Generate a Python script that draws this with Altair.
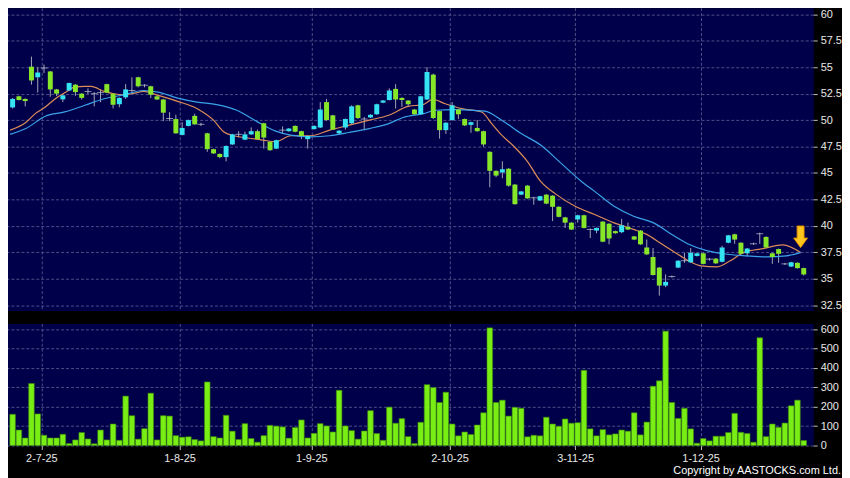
import altair as alt
import pandas as pd

# ---------------- data ----------------
opens = [51.2, 52.25, 52.0, 55.05, 54.05, 54.93, 54.6, 52.9, 51.96, 52.8,
         53.35, 52.5, 52.7, 52.5, 52.6, 53.4, 52.5, 51.5, 52.15, 52.8,
         54.05, 53.3, 53.2, 52.25, 51.95, 50.15, 50.1, 48.6, 49.45, 50.4,
         49.6, 48.75, 47.25, 46.8, 46.5, 47.7, 48.65, 48.15, 48.65, 48.95,
         49.7, 47.95, 47.3, 49.05, 48.95, 49.45, 48.95, 48.2, 49.15, 49.3,
         51.7, 50.45, 48.75, 49.3, 49.7, 51.4, 50.1, 50.25, 50.55, 51.65,
         51.9, 52.95, 52.1, 51.85, 51.0, 50.55, 51.95, 54.3, 50.85, 49.05,
         50.0, 51.0, 50.1, 49.55, 49.25, 48.95, 47.0, 45.2, 45.05, 45.4,
         43.9, 42.95, 43.8, 42.65, 42.4, 42.95, 42.85, 41.8, 40.8, 40.3,
         40.6, 41.0, 39.65, 39.55, 40.4, 40.2, 39.5, 39.4, 39.9, 39.0,
         39.55, 37.95, 37.05, 36.05, 34.35, 35.2, 36.05, 36.7, 36.55, 37.15,
         37.4, 36.85, 36.9, 36.6, 38.4, 39.2, 38.4, 37.4, 38.3, 39.25,
         38.95, 37.4, 37.8, 36.4, 36.15, 36.5, 36.0]
highs = [52.1, 52.3, 52.05, 56.0, 55.0, 55.25, 54.65, 52.95, 52.4, 53.55,
         53.4, 52.55, 53.0, 52.65, 52.9, 53.45, 52.55, 52.15, 53.4, 54.05,
         54.1, 53.4, 53.25, 52.3, 52.0, 50.75, 50.5, 49.8, 50.05, 50.6,
         49.75, 48.8, 47.3, 46.85, 47.6, 48.7, 48.95, 48.9, 49.3, 49.1,
         49.75, 48.0, 48.15, 49.4, 49.25, 49.5, 49.0, 48.55, 49.5, 51.7,
         52.0, 50.5, 49.05, 50.15, 51.4, 51.45, 50.3, 50.55, 51.55, 51.9,
         53.0, 53.4, 52.15, 51.9, 51.05, 52.3, 55.0, 54.4, 50.9, 49.8,
         51.7, 51.05, 50.15, 49.85, 50.0, 49.0, 47.05, 45.25, 46.1, 45.45,
         43.95, 43.3, 43.85, 42.75, 42.85, 43.0, 42.9, 41.85, 40.85, 40.35,
         41.05, 41.05, 39.75, 39.85, 40.45, 40.25, 39.55, 40.65, 40.3, 39.05,
         39.6, 38.7, 37.9, 36.1, 35.4, 35.3, 36.75, 37.45, 37.9, 37.45,
         37.45, 36.95, 36.95, 38.1, 39.15, 39.25, 38.45, 37.9, 38.4, 39.35,
         39.0, 37.45, 37.85, 36.5, 36.6, 36.55, 36.05]
lows = [51.1, 51.85, 51.3, 53.35, 52.6, 54.45, 52.2, 52.27, 51.7, 52.75,
        52.3, 51.95, 52.45, 51.3, 51.7, 52.55, 51.1, 51.2, 52.0, 52.5,
        53.1, 53.1, 52.1, 51.9, 49.9, 49.9, 48.7, 48.55, 49.4, 49.55,
        49.45, 47.0, 46.8, 46.4, 46.1, 47.65, 48.35, 48.1, 48.6, 48.15,
        47.3, 47.1, 47.25, 48.7, 48.9, 48.85, 48.2, 47.3, 49.1, 49.25,
        49.95, 49.05, 48.6, 49.1, 49.6, 50.1, 49.05, 50.2, 50.5, 51.6,
        51.85, 51.1, 51.25, 51.3, 50.5, 50.5, 51.9, 50.1, 48.25, 48.7,
        49.95, 50.1, 49.45, 48.8, 48.9, 47.5, 43.65, 44.6, 44.5, 43.7,
        42.0, 42.9, 42.55, 42.0, 42.35, 42.05, 40.45, 40.8, 39.8, 39.6,
        40.3, 39.75, 38.85, 39.3, 38.45, 38.25, 39.25, 39.3, 39.6, 38.65,
        38.2, 37.25, 35.3, 33.4, 34.2, 35.1, 36.0, 36.5, 36.5, 37.1,
        36.35, 36.7, 36.4, 36.55, 38.35, 38.3, 37.3, 37.1, 38.2, 38.3,
        37.9, 36.4, 36.5, 36.3, 36.1, 35.95, 35.3]
closes = [52.0, 51.9, 51.8, 53.75, 54.5, 54.93, 52.9, 52.5, 52.34, 53.5,
          52.65, 52.1, 52.7, 52.5, 52.6, 52.6, 51.45, 52.1, 52.9, 52.8,
          53.2, 53.3, 52.4, 51.95, 50.7, 50.15, 48.75, 49.25, 50.0, 49.6,
          49.6, 47.25, 46.85, 46.5, 47.55, 48.65, 48.65, 48.65, 48.95, 48.2,
          48.35, 47.15, 48.1, 49.05, 49.2, 48.9, 48.5, 48.5, 49.45, 51.0,
          50.0, 49.1, 49.0, 50.1, 51.3, 50.2, 50.1, 50.5, 51.5, 51.85,
          52.8, 51.95, 51.9, 51.5, 50.55, 52.25, 54.55, 50.2, 49.05, 49.75,
          51.4, 50.55, 49.5, 49.8, 48.95, 47.7, 45.2, 44.75, 45.35, 43.8,
          42.05, 43.25, 42.6, 42.65, 42.8, 42.1, 41.8, 40.85, 40.3, 39.65,
          41.0, 39.8, 39.65, 39.8, 38.5, 38.8, 39.3, 40.05, 39.65, 38.7,
          38.25, 37.3, 35.35, 34.35, 34.7, 35.2, 36.7, 36.7, 37.45, 37.4,
          36.4, 36.85, 36.45, 37.95, 39.1, 38.7, 37.35, 37.85, 38.3, 39.25,
          37.95, 37.05, 37.35, 36.4, 36.55, 36.0, 35.4]
volumes = [161, 80, 39, 320, 163, 53, 39, 39, 58, 10,
           29, 67, 34, 9, 80, 29, 111, 27, 255, 154,
           33, 87, 270, 29, 154, 152, 51, 43, 45, 31,
           24, 328, 46, 39, 156, 74, 31, 113, 36, 17,
           51, 104, 100, 96, 38, 93, 132, 39, 63, 113,
           101, 70, 285, 101, 77, 33, 75, 180, 62, 27,
           198, 115, 139, 46, 10, 120, 314, 299, 222, 275,
           111, 50, 70, 57, 106, 169, 607, 222, 234, 152,
           197, 192, 45, 53, 50, 146, 111, 99, 137, 115,
           118, 388, 86, 50, 82, 55, 60, 80, 74, 169,
           55, 121, 306, 334, 590, 222, 140, 192, 86, 12,
           36, 24, 48, 48, 67, 166, 68, 62, 17, 556,
           46, 111, 94, 116, 205, 234, 26]

ma_short_idx = [-0.4, 2.1, 3.6, 5.2, 6.8, 8.3, 9.9, 11.5, 12.5, 14.6, 16.1, 17.7,
                19.7, 20.8, 23.2, 26.3, 29.4, 32.0, 33.6, 35.2, 37.2, 39.8, 41.9,
                44.3, 47.4, 50.5, 53.6, 56.8, 59.9, 63.0, 65.4, 66.9, 68.9, 71.6,
                74.7, 76.3, 77.9, 79.9, 82.0, 84.1, 86.5, 89.6, 92.7, 95.8, 98.9,
                101.0, 103.1, 105.2, 107.5, 109.6, 112.2, 114.3, 116.4, 119.5,
                122.7, 125.5]
ma_short_val = [49.05, 49.77, 50.61, 51.24, 52.02, 52.58, 53.12, 53.18, 53.18, 52.71,
                52.49, 52.39, 52.58, 52.71, 52.34, 51.77, 51.08, 49.99, 48.89, 48.52,
                48.33, 48.11, 47.95, 48.52, 48.52, 49.05, 49.52, 49.99, 50.46, 51.3,
                51.46, 51.96, 51.55, 51.08, 50.77, 49.67, 48.58, 47.48, 46.08, 44.2,
                43.0, 41.85, 41.07, 40.28, 39.66, 39.19, 38.4, 37.6, 36.75, 36.22,
                36.12, 36.69, 37.47, 37.84, 38.2, 37.47]
ma_long_idx = [-0.4, 2.1, 5.2, 8.3, 11.5, 14.6, 17.7, 20.8, 23.2, 26.3, 29.4, 32.5,
               35.7, 38.8, 41.9, 44.3, 47.4, 50.5, 53.6, 56.8, 59.9, 62.2, 65.4,
               67.4, 70.5, 75.2, 77.9, 81.0, 84.1, 87.2, 90.6, 92.7, 95.8, 98.9,
               102.1, 105.2, 107.5, 110.7, 113.8, 116.9, 120.1, 123.2, 125.5]
ma_long_val = [48.65, 49.2, 50.37, 50.77, 51.4, 52.02, 52.39, 52.8, 52.65, 52.08,
               51.7, 51.46, 50.93, 49.9, 48.96, 48.58, 48.42, 48.52, 48.83, 49.2,
               49.67, 50.25, 50.61, 50.93, 50.99, 50.84, 49.99, 48.73, 47.64, 46.0,
               44.2, 43.26, 41.85, 40.91, 40.28, 39.1, 38.31, 37.63, 37.31, 37.16,
               37.06, 37.16, 37.47]

tick_idx = [5, 27, 48, 70, 90, 110]
tick_labels = ["2-7-25", "1-8-25", "1-9-25", "2-10-25", "3-11-25", "1-12-25"]
price_ticks = [32.5, 35, 37.5, 40, 42.5, 45, 47.5, 50, 52.5, 55, 57.5, 60]
vol_ticks = [0, 100, 200, 300, 400, 500, 600]
arrow_idx = [125.5]
arrow_val = [38.96]
copyright_text = ["Copyright by AASTOCKS.com Ltd."]

# ---------------- styling ----------------
W = 814
H_PRICE = 305
H_VOL = 123
X_DOMAIN = [-0.42, 126.72]
Y_DOMAIN = [31.99, 60.63]
V_DOMAIN = [0, 630]
CYAN = "#34e4f2"
LIME = "#86e628"
WICK = "#a4a4b8"
FONT = "Liberation Sans"

n = len(opens)
df = pd.DataFrame({"idx": list(range(n)), "open": opens, "high": highs,
                   "low": lows, "close": closes, "vol": volumes})
df["dir"] = ["up" if c > o else ("down" if c < o else "flat")
             for o, c in zip(opens, closes)]

tick_vals = [t - 0.42 for t in tick_idx]
label_expr = "''"
for t, lab in reversed(list(zip(tick_idx, tick_labels))):
    label_expr = f"round(datum.value + 0.42) == {t} ? '{lab}' : ({label_expr})"

xscale = alt.Scale(domain=X_DOMAIN, nice=False, zero=False)
x_price = alt.X("idx:Q", scale=xscale, title=None,
                axis=alt.Axis(values=tick_vals, labels=False, ticks=False,
                              domain=False, grid=True))
x_vol = alt.X("idx:Q", scale=xscale, title=None,
              axis=alt.Axis(values=tick_vals, labelExpr=label_expr, ticks=True,
                            domain=False, grid=True, tickSize=4, labelPadding=3,
                            labelFontSize=11))

price_axis = alt.Axis(orient="right", values=price_ticks, format=".3~g",
                      domain=False, grid=True, tickSize=4, labelPadding=3,
                      labelOverlap=False, labelFlush=False)
yscale = alt.Scale(domain=Y_DOMAIN, nice=False, zero=False)

base = alt.Chart(df)

wicks = base.mark_rule(color=WICK, strokeWidth=1).encode(
    x=x_price,
    y=alt.Y("low:Q", scale=yscale, axis=price_axis, title=None),
    y2="high:Q",
)
bodies = base.transform_filter("datum.dir != 'flat'").mark_bar(size=5).encode(
    x=x_price,
    y=alt.Y("open:Q", scale=yscale, axis=price_axis, title=None),
    y2="close:Q",
    color=alt.Color("dir:N", scale=alt.Scale(domain=["up", "down"], range=[CYAN, LIME]),
                    legend=None),
)
dojis = base.transform_filter("datum.dir == 'flat'").mark_tick(
    orient="horizontal", size=7, thickness=1, color="#c8c8d4").encode(
    x=x_price,
    y=alt.Y("open:Q", scale=yscale, axis=price_axis, title=None),
)

ma_s = alt.Chart(pd.DataFrame({"idx": ma_short_idx, "v": ma_short_val})).mark_line(
    color="#dc8c58", strokeWidth=1.2, interpolate="monotone", clip=True).encode(
    x=x_price, y=alt.Y("v:Q", scale=yscale, axis=price_axis, title=None))
ma_l = alt.Chart(pd.DataFrame({"idx": ma_long_idx, "v": ma_long_val})).mark_line(
    color="#3aa2e8", strokeWidth=1.2, interpolate="monotone", clip=True).encode(
    x=x_price, y=alt.Y("v:Q", scale=yscale, axis=price_axis, title=None))

arrow_path = "M-0.32,-1L0.32,-1L0.32,0.12L0.64,0.12L0,1L-0.64,0.12L-0.32,0.12Z"
arrow = alt.Chart(pd.DataFrame({"idx": arrow_idx, "v": arrow_val})).mark_point(
    shape=arrow_path, size=470, filled=True, fill="#ffc61e", stroke="#e89400",
    strokeWidth=1, opacity=1).encode(
    x=x_price, y=alt.Y("v:Q", scale=yscale, axis=price_axis, title=None))

price = alt.layer(wicks, ma_s, ma_l, bodies, dojis, arrow).properties(
    width=W, height=H_PRICE)

vol_axis = alt.Axis(orient="right", values=vol_ticks, format="d", domain=False,
                    grid=True, tickSize=4, labelPadding=3,
                    labelOverlap=False, labelFlush=False)
vol_bars = base.mark_bar(size=5.6, color="#78ee14", stroke="#3e8a0c",
                         strokeWidth=0.6).encode(
    x=x_vol,
    y=alt.Y("vol:Q", scale=alt.Scale(domain=V_DOMAIN, nice=False), axis=vol_axis,
            title=None),
)
copyright_mark = alt.Chart(pd.DataFrame({"t": copyright_text})).mark_text(
    align="right", baseline="middle", color="#ffffff", font=FONT, fontSize=11).encode(
    text="t:N", x=alt.value(W + 28), y=alt.value(H_VOL + 26))

volume = alt.layer(vol_bars, copyright_mark).properties(width=W, height=H_VOL)

chart = alt.vconcat(price, volume, spacing=11).properties(
    padding={"left": -4, "top": -3, "right": 0, "bottom": 0},
    background="#000000",
).configure_view(
    fill="#00004a", stroke="transparent"
).configure_axis(
    gridColor="#4e4e88", gridDash=[3, 2], gridWidth=1,
    labelColor="#e8e8e8", labelFont=FONT, labelFontSize=11,
    tickColor="#c0c0c0",
)

chart.save("out.html", embed_options={"renderer": "svg", "actions": False})
